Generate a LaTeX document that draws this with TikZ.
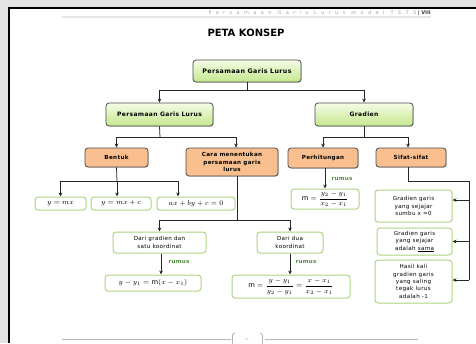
\documentclass[tikz,border=0pt]{standalone}
\usepackage{amsmath}
\usepackage{fontspec}
\setmainfont{DejaVu Sans}
\newfontfamily\boxfont[LetterSpace=6]{DejaVu Sans}
\newfontfamily\headfont[LetterSpace=88]{DejaVu Sans}
\usetikzlibrary{arrows.meta,shadows}

\definecolor{gtop}{HTML}{F5FCE6}
\definecolor{gbot}{HTML}{C4E78C}
\definecolor{orng}{HTML}{F9BF8F}
\definecolor{lgrn}{HTML}{AFD482}
\definecolor{rum}{HTML}{4C8C3A}
\definecolor{edge}{HTML}{4A4A4A}

\begin{document}
\begin{tikzpicture}[x=1pt,y=-1pt,
  conn/.style={draw=black!85, line width=0.75pt},
  arrowed/.style={conn, -{Stealth[length=4pt,width=3.6pt]}},
  sz/.style 2 args={minimum width=#1, minimum height=#2, inner sep=0pt, align=center},
  greenbox/.style={draw=edge, line width=0.8pt, rounded corners=3pt,
    top color=gtop, bottom color=gbot,
    drop shadow={shadow xshift=0.8pt, shadow yshift=-0.8pt, opacity=0.35},
    font=\boxfont\bfseries\fontsize{6}{7.5}\selectfont},
  orangebox/.style={draw=edge, line width=0.8pt, rounded corners=3pt, fill=orng,
    drop shadow={shadow xshift=0.8pt, shadow yshift=-0.8pt, opacity=0.35},
    font=\boxfont\bfseries\fontsize{5.6}{7.5}\selectfont},
  whitebox/.style={draw=lgrn, line width=1pt, rounded corners=3pt, fill=white,
    font=\boxfont\fontsize{5.6}{7.4}\selectfont},
  mathbox/.style={draw=lgrn, line width=1pt, rounded corners=3pt, fill=white,
    font=\fontsize{6.8}{7.8}\selectfont},
  rumus/.style={text=rum, font=\boxfont\bfseries\fontsize{5.5}{6}\selectfont, inner sep=0pt},
  pageline/.style={draw=gray!55, line width=0.6pt}
]
\useasboundingbox (0,0) rectangle (476,343);

% page and its surroundings
\fill[gray!22] (0,0) rectangle (476,343);
\fill[white] (9,8) rectangle (476,343);
\draw[black, line width=1.6pt] (9,343) -- (9,8) -- (476,8);

% running head
\draw[gray!20, line width=1.2pt] (62,17) -- (431,17);
\node[anchor=east, inner sep=0pt, text=gray!70] (runhead) at (431,13.5)
  {\fontsize{5}{6}\selectfont{\headfont Persamaan Garis Lurus model TSTS} {\color{black!75}\bfseries| VIII}};

% title
\node[font=\bfseries\fontsize{10}{12}\selectfont] (title) at (246,33) {PETA KONSEP};

% level 1 and 2
\node[greenbox, sz={108}{22}, font=\boxfont\bfseries\fontsize{6.3}{7.5}\selectfont] (top) at (247,71) {Persamaan Garis Lurus};
\node[greenbox, sz={107}{23}] (pgl) at (159.5,114.5) {Persamaan Garis Lurus};
\node[greenbox, sz={98}{23}] (grad) at (364,114.5) {Gradien};

% level 3
\node[orangebox, sz={63}{19}] (bentuk) at (116.5,157.5) {Bentuk};
\node[orangebox, sz={92}{28}] (cara) at (232,162) {Cara menentukan\\persamaan garis\\lurus};
\node[orangebox, sz={70}{20}] (hitung) at (323,158) {Perhitungan};
\node[orangebox, sz={70}{19}] (sifat) at (411,157.5) {Sifat-sifat};

% forms of the line equation
\node[mathbox, sz={51}{13}] (fmx) at (60.5,203.5) {$y = mx$};
\node[mathbox, sz={60}{13}] (fmxc) at (121,203.5) {$y = mx + c$};
\node[mathbox, sz={78}{13}] (fax) at (196,203.5) {$ax + by + c = 0$};

% ways of finding the equation
\node[whitebox, sz={93}{21}] (dg) at (159.5,242.5) {Dari gradien dan\\satu koordinat};
\node[whitebox, sz={66}{21}] (dd) at (290,242.5) {Dari dua\\koordinat};
\node[mathbox, sz={96}{16}] (fpt) at (153,283) {$y - y_1 = \mathrm{m}(x - x_1)$};
\node[mathbox, sz={118}{23}] (fdd) at (291,286.5) {$\mathrm{m} = \dfrac{y - y_1}{y_2 - y_1} = \dfrac{x - x_1}{x_2 - x_1}$};

% gradient
\node[mathbox, sz={68}{20}] (fm) at (325,199) {$\mathrm{m} = \dfrac{y_2 - y_1}{x_2 - x_1}$};
\node[whitebox, sz={77}{32}] (s1) at (413.5,206) {Gradien garis\\yang sejajar\\sumbu x =0};
\node[whitebox, sz={75}{27}] (s2) at (414.5,241.5) {Gradien garis\\yang sejajar\\adalah \underline{sama}};
\node[whitebox, sz={77}{43}] (s3) at (413.5,281.5) {Hasil kali\\gradien garis\\yang saling\\tegak lurus\\adalah -1};

% connectors: top
\coordinate (j1) at (247,90);
\draw[conn] (top.south) -- (j1);
\draw[arrowed] (j1) -| (pgl.north);
\draw[arrowed] (j1) -| (grad.north);

% connectors: persamaan garis lurus
\coordinate (j2) at (160,137);
\draw[conn] (pgl.south) -- (j2);
\draw[arrowed] (j2) -| (bentuk.north);
\draw[arrowed] (j2) -| ([xshift=4pt]cara.north);

% connectors: bentuk
\coordinate (j3) at (117,181);
\draw[conn] (bentuk.south) -- (j3);
\draw[arrowed] (j3) -| (fmx.north);
\draw[arrowed] (j3) -| ([xshift=-4pt]fmxc.north);
\draw[arrowed] (j3) -| ([xshift=-18pt]fax.north);

% connectors: cara menentukan
\coordinate (j4) at (237,220);
\draw[conn] ([xshift=5pt]cara.south) -- (j4);
\draw[arrowed] (j4) -| (dg.north);
\draw[arrowed] (j4) -| (dd.north);
\draw[arrowed] ([xshift=1.5pt]dg.south) -- ([xshift=1.5pt]dg.south |- fpt.north);
\draw[arrowed] (dd.south) -- (dd.south |- fdd.north);
\node[rumus] (r1) at (179,262) {rumus};
\node[rumus] (r2) at (306,261.5) {rumus};

% connectors: gradien
\coordinate (j5) at (364,137);
\draw[conn] (grad.south) -- (j5);
\draw[arrowed] (j5) -| (hitung.north);
\draw[arrowed] (j5) -| ([xshift=-3pt]sifat.north);
\draw[arrowed] ([xshift=2pt]hitung.south) -- ([xshift=2pt]hitung.south |- fm.north);
\node[rumus] (r3) at (342,179) {rumus};

% connectors: sifat-sifat
\coordinate (sp) at (469,181);
\coordinate (a1) at (469,200);
\coordinate (a3) at (469,280);
\draw[conn] ([xshift=-3pt]sifat.south) |- (sp) -- (a3);
\draw[arrowed] (a1) -- (a1 -| s1.east);
\draw[arrowed] (sp |- s2.east) -- (s2.east);
\draw[arrowed] (a3) -- (a3 -| s3.east);

% page foot
\draw[pageline] (62,339) -- (231,339);
\draw[pageline] (265,339) -- (418,339);
\draw[gray!60, line width=0.7pt, rounded corners=1pt] (235,333.5) -- (232.5,333.5) -- (232.5,343.5);
\draw[gray!60, line width=0.7pt, rounded corners=1pt] (260,333.5) -- (262.5,333.5) -- (262.5,343.5);
\node[text=gray!60, font=\fontsize{4}{5}\selectfont] (pg) at (247,338.5) {iv};
\end{tikzpicture}
\end{document}
